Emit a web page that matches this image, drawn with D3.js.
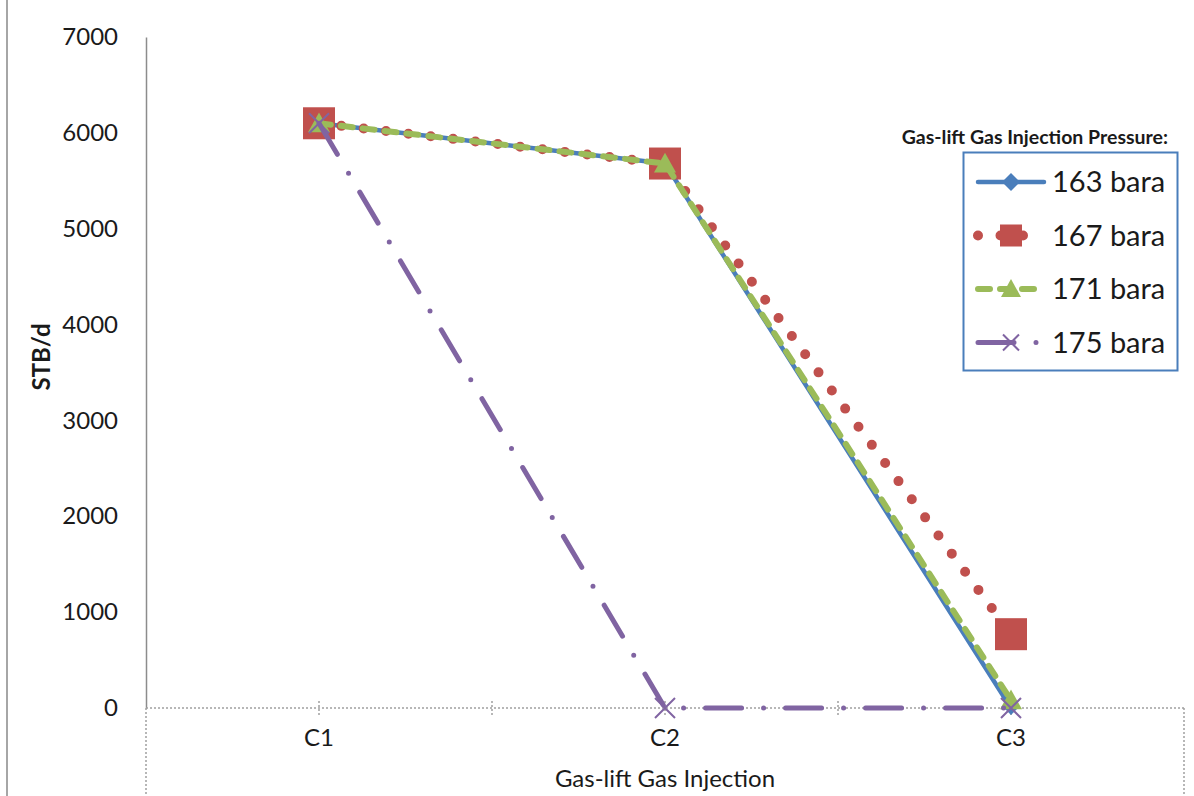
<!DOCTYPE html>
<html>
<head>
<meta charset="utf-8">
<script src="https://cdn.jsdelivr.net/npm/d3@7"></script>
<style>
  html, body { margin: 0; padding: 0; background: #fff; }
  svg { display: block; font-family: Lato, "Open Sans", sans-serif; }
</style>
</head>
<body>
<svg id="chart" width="1194" height="796"></svg>
<script>
// Gas-lift injection cases and oil rate (STB/d) for each injection pressure
const categories = ["C1", "C2", "C3"];
const yTicks = [0, 1000, 2000, 3000, 4000, 5000, 6000, 7000];
const seriesNames = ["163 bara", "167 bara", "171 bara", "175 bara"];
const rate163 = [6100, 5680, 0];
const rate167 = [6100, 5680, 770];
const rate171 = [6100, 5680, 80];
const rate175 = [6100, 0, 0];

const series = [
  { name: seriesNames[0], values: rate163, color: "#4a7ebb", width: 4.5, dash: null, cap: "round", marker: "diamond", msize: 14 },
  { name: seriesNames[1], values: rate167, color: "#c0504d", width: 10, dash: "0 22.5", cap: "round", marker: "square", msize: 32 },
  { name: seriesNames[2], values: rate171, color: "#9bbb59", width: 6, dash: "12 10", cap: "round", marker: "triangle", msize: 22 },
  { name: seriesNames[3], values: rate175, color: "#8064a2", width: 5, dash: "36 22 0 22", cap: "round", marker: "x", msize: 20 }
];

const svg = d3.select("#chart");
const plot = { left: 146, right: 1184, top: 37, bottom: 708 };

const x = d3.scaleBand().domain(categories).range([plot.left, plot.right]);
const y = d3.scaleLinear().domain([0, 7000]).range([plot.bottom, plot.top]);
const cx = c => x(c) + x.bandwidth() / 2;

// outer frame line on the left
svg.append("line").attr("x1", 7).attr("x2", 7).attr("y1", 0).attr("y2", 796)
  .attr("stroke", "#a6a6a6").attr("stroke-width", 2);

// value axis
const yAxis = d3.axisLeft(y).tickValues(yTicks).tickFormat(d3.format("d"))
  .tickSize(0).tickPadding(28).tickSizeOuter(0);
const gy = svg.append("g").attr("transform", `translate(${plot.left},0)`).call(yAxis);
gy.select(".domain").attr("stroke", "#8c8c8c").attr("stroke-width", 1.5);
gy.selectAll("text").attr("font-size", 24).attr("fill", "#1a1a1a").attr("font-family", "Lato, sans-serif");

// category axis: dotted baseline with half-band tick marks
svg.append("line").attr("x1", plot.left).attr("x2", plot.right).attr("y1", y(0)).attr("y2", y(0))
  .attr("stroke", "#a0a0a0").attr("stroke-width", 1.5).attr("stroke-dasharray", "2 2");
const half = x.bandwidth() / 2;
const tickPos = d3.range(1, categories.length * 2).map(i => plot.left + i * half);
svg.append("g").selectAll("line").data(tickPos).join("line")
  .attr("x1", d => d).attr("x2", d => d).attr("y1", y(0) - 7).attr("y2", y(0) + 7)
  .attr("stroke", "#a0a0a0").attr("stroke-width", 1.5).attr("stroke-dasharray", "2 2");
// dotted vertical guides below the baseline
[plot.left, plot.right].forEach(px => {
  svg.append("line").attr("x1", px).attr("x2", px).attr("y1", y(0)).attr("y2", 796)
    .attr("stroke", "#a0a0a0").attr("stroke-width", 1.5).attr("stroke-dasharray", "2 2");
});
svg.append("g").selectAll("text").data(categories).join("text")
  .attr("x", d => cx(d)).attr("y", 746).attr("text-anchor", "middle")
  .attr("font-size", 24).attr("fill", "#1a1a1a").text(d => d);

// axis titles
svg.append("text").attr("x", (plot.left + plot.right) / 2).attr("y", 787)
  .attr("text-anchor", "middle").attr("font-size", 24).attr("fill", "#1a1a1a")
  .text("Gas-lift Gas Injection");
svg.append("text").attr("transform", "translate(50,357) rotate(-90)")
  .attr("text-anchor", "middle").attr("font-size", 24).attr("font-weight", "bold")
  .attr("fill", "#1a1a1a").text("STB/d");

// marker shapes
function drawMarker(g, s, px, py, size) {
  const h = size / 2;
  if (s.marker === "diamond") {
    g.append("path").attr("d", `M${px},${py - h}L${px + h},${py}L${px},${py + h}L${px - h},${py}Z`)
      .attr("fill", s.color);
  } else if (s.marker === "square") {
    g.append("rect").attr("x", px - h).attr("y", py - h).attr("width", size).attr("height", size)
      .attr("fill", s.color);
  } else if (s.marker === "triangle") {
    const th = size * 0.9;
    g.append("path").attr("d", `M${px},${py - th * 0.55}L${px + h},${py + th * 0.45}L${px - h},${py + th * 0.45}Z`)
      .attr("fill", s.color);
  } else if (s.marker === "x") {
    g.append("path").attr("d", `M${px - h},${py - h}L${px + h},${py + h}M${px + h},${py - h}L${px - h},${py + h}`)
      .attr("stroke", s.color).attr("stroke-width", 2).attr("fill", "none");
  }
}

// series lines and markers
const line = d3.line().x((d, i) => cx(categories[i])).y(d => y(d));
series.forEach(s => {
  const g = svg.append("g");
  const p = g.append("path").datum(s.values).attr("d", line)
    .attr("fill", "none").attr("stroke", s.color).attr("stroke-width", s.width)
    .attr("stroke-linecap", s.cap).attr("stroke-linejoin", "round");
  if (s.dash) p.attr("stroke-dasharray", s.dash);
  s.values.forEach((v, i) => drawMarker(g, s, cx(categories[i]), y(v), s.msize));
});

// legend
svg.append("text").attr("x", 1168).attr("y", 144).attr("text-anchor", "end")
  .attr("font-size", 19.5).attr("font-weight", "bold").attr("fill", "#1a1a1a")
  .text("Gas-lift Gas Injection Pressure:");
svg.append("rect").attr("x", 963.5).attr("y", 152.5).attr("width", 214).attr("height", 218)
  .attr("fill", "#fff").attr("stroke", "#4a7ebb").attr("stroke-width", 2);
const legendMarkerSize = [18, 22, 20, 16];
series.forEach((s, i) => {
  const ly = 182 + i * 53.5;
  const g = svg.append("g");
  const l = g.append("line").attr("x1", 978).attr("x2", 1044).attr("y1", ly).attr("y2", ly)
    .attr("stroke", s.color).attr("stroke-width", s.width).attr("stroke-linecap", s.cap);
  if (s.dash) l.attr("stroke-dasharray", s.dash);
  drawMarker(g, s, 1011, ly, legendMarkerSize[i]);
  g.append("text").attr("x", 1052).attr("y", ly + 10).attr("font-size", 29)
    .attr("fill", "#1a1a1a").text(s.name);
});
</script>
</body>
</html>
